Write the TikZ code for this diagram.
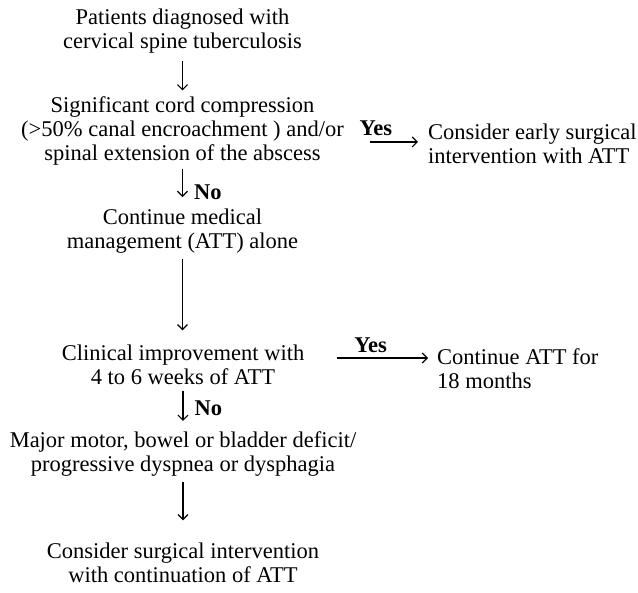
\documentclass[tikz,border=0pt]{standalone}
\usepackage{fontspec}
\setmainfont{Liberation Serif}
\usetikzlibrary{arrows.meta}
\begin{document}
\begin{tikzpicture}[x=1pt,y=-1pt,
  txt/.style={inner sep=0pt, align=center, font=\fontsize{22.5}{24}\selectfont},
  ltxt/.style={inner sep=0pt, align=left, anchor=west, font=\fontsize{22.5}{24}\selectfont},
  lab/.style={inner sep=0pt, font=\fontsize{22.5}{24}\selectfont\bfseries},
  arr/.style={line width=1.2pt, -{Straight Barb[length=5pt,width=10pt,line width=1.2pt]}}]
\useasboundingbox (0,0) rectangle (638,593);
\node[txt] (n1) at (182.5,31) {Patients diagnosed with\\cervical spine tuberculosis};
\node[txt] (n2) at (182.5,131) {Significant cord compression\\(>50\% canal encroachment ) and/or\\spinal extension of the abscess};
\node[ltxt] (n3) at (428,144) {Consider early surgical\\intervention with ATT};
\node[txt] (n4) at (182.5,231.5) {Continue medical\\management (ATT) alone};
\node[txt] (n5) at (183,364.5) {Clinical improvement with\\4 to 6 weeks of ATT};
\node[ltxt] (n6) at (437,368.5) {Continue ATT for\\18 months};
\node[txt] (n7) at (183,454.5) {Major motor, bowel or bladder deficit/\\progressive dyspnea or dysphagia};
\node[txt] (n8) at (183,562.5) {Consider surgical intervention\\with continuation of ATT};

\draw[arr, shorten <=8pt, shorten >=6pt] (n1.south) -- (n1.south |- n2.north);
\draw[arr, shorten <=3pt, shorten >=12pt] (n2.south) -- (n2.south |- n4.north)
  node[lab, pos=0.62, anchor=west, xshift=11pt] {No};
\draw[arr, shorten <=5pt, shorten >=14pt] (n4.south) -- (n4.south |- n5.north);
\draw[arr, shorten <=6pt, shorten >=11pt] (n5.south) -- (n5.south |- n7.north)
  node[lab, pos=0.5, anchor=west, xshift=11pt] {No};
\draw[arr, shorten <=5pt, shorten >=22pt] (n7.south) -- (n7.south |- n8.north);

\draw[arr, shorten <=26pt, shorten >=10pt] ([yshift=-11pt]n2.east) -- ([yshift=2pt]n3.west)
  node[lab, pos=0.38, anchor=south, yshift=6pt] {Yes};
\draw[arr, shorten <=33pt, shorten >=9pt] ([yshift=6.5pt]n5.east) -- ([yshift=10.5pt]n6.west)
  node[lab, pos=0.5, anchor=south, yshift=5pt] {Yes};
\end{tikzpicture}
\end{document}
